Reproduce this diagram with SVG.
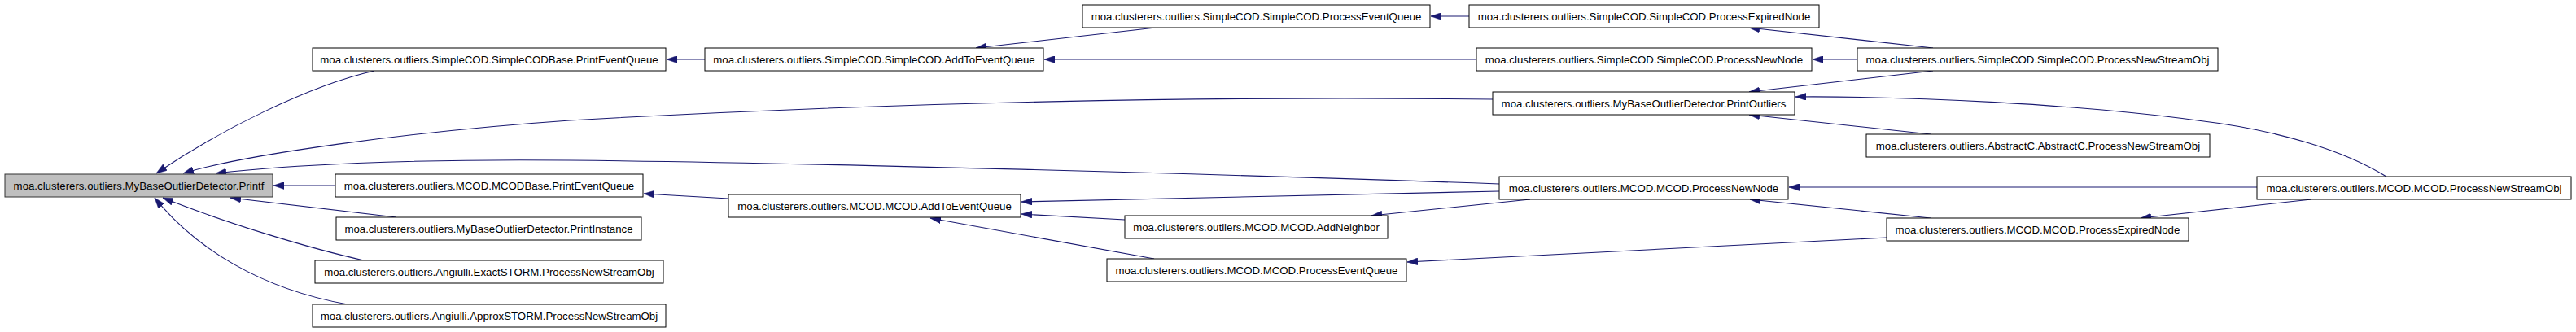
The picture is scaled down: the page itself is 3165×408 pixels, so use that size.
<svg xmlns="http://www.w3.org/2000/svg" width="3165" height="408" viewBox="0 0 3165 408">
<style>
.n rect{fill:#ffffff;stroke:#000000;stroke-width:1}
.n.main rect{fill:#bfbfbf;stroke:#333333}
.n text{font-family:"Liberation Sans",Arial,Helvetica,sans-serif;font-size:13.25px;fill:#000000;text-anchor:middle}
.e path{fill:none;stroke:#191970;stroke-width:1.1}
</style>
<defs>
<marker id="ah" markerUnits="userSpaceOnUse" viewBox="0 0 13 9" markerWidth="13" markerHeight="9" refX="13" refY="4.5" orient="auto">
<path d="M0,0 L13,4.5 L0,9 z" fill="#191970" stroke="#191970" stroke-width="0.5"/>
</marker>
</defs>
<rect x="0" y="0" width="3165" height="408" fill="#ffffff"/>
<g id="connectors" class="e">
<path marker-end="url(#ah)" d="M460,87 C380,105 270,160 192,213"/>
<path marker-end="url(#ah)" d="M1834,122 C1500,118 1100,125 700,148 C500,162 300,190 225,213"/>
<path marker-end="url(#ah)" d="M1842,226 C1500,214 1000,200 700,197 C500,195 350,203 265,213"/>
<path marker-end="url(#ah)" d="M412,228 L336,228"/>
<path marker-end="url(#ah)" d="M487,267 L283,243"/>
<path marker-end="url(#ah)" d="M447,320 C380,305 280,275 200,243"/>
<path marker-end="url(#ah)" d="M427,374 C320,355 240,305 190,243"/>
<path marker-end="url(#ah)" d="M866,73 L819,73"/>
<path marker-end="url(#ah)" d="M1420,34 L1199,59"/>
<path marker-end="url(#ah)" d="M1814,73 L1283,73"/>
<path marker-end="url(#ah)" d="M1805,20 L1758,20"/>
<path marker-end="url(#ah)" d="M2375,59 L2149,34"/>
<path marker-end="url(#ah)" d="M2282,73 L2227,73"/>
<path marker-end="url(#ah)" d="M2375,87 L2149,113"/>
<path marker-end="url(#ah)" d="M2372,165 L2149,141"/>
<path marker-end="url(#ah)" d="M2932,217 C2880,185 2800,160 2700,148 C2550,128 2350,118 2206,119"/>
<path marker-end="url(#ah)" d="M2773,230 L2198,230"/>
<path marker-end="url(#ah)" d="M2840,245 L2630,268"/>
<path marker-end="url(#ah)" d="M2372,268 L2150,245"/>
<path marker-end="url(#ah)" d="M2318,292 L1729,322"/>
<path marker-end="url(#ah)" d="M1880,245 L1685,265"/>
<path marker-end="url(#ah)" d="M1842,235 L1255,248"/>
<path marker-end="url(#ah)" d="M1382,270 L1255,263"/>
<path marker-end="url(#ah)" d="M1418,318 L1143,268"/>
<path marker-end="url(#ah)" d="M895,244 L791,238"/>
</g>
<g id="n_printf" class="n main"><rect x="6" y="214" width="329" height="28"/><text x="170.5" y="232.5">moa.clusterers.outliers.MyBaseOutlierDetector.Printf</text></g>
<g id="n_scodbase_peq" class="n"><rect x="384" y="59" width="434" height="28"/><text x="601" y="77.5">moa.clusterers.outliers.SimpleCOD.SimpleCODBase.PrintEventQueue</text></g>
<g id="n_mcodbase_peq" class="n"><rect x="412" y="214" width="378" height="28"/><text x="601" y="232.5">moa.clusterers.outliers.MCOD.MCODBase.PrintEventQueue</text></g>
<g id="n_printinstance" class="n"><rect x="413" y="267" width="375" height="28"/><text x="600.5" y="285.5">moa.clusterers.outliers.MyBaseOutlierDetector.PrintInstance</text></g>
<g id="n_exactstorm" class="n"><rect x="387" y="320" width="428" height="28"/><text x="601" y="338.5">moa.clusterers.outliers.Angiulli.ExactSTORM.ProcessNewStreamObj</text></g>
<g id="n_approxstorm" class="n"><rect x="384" y="374" width="434" height="28"/><text x="601" y="392.5">moa.clusterers.outliers.Angiulli.ApproxSTORM.ProcessNewStreamObj</text></g>
<g id="n_scod_addq" class="n"><rect x="866" y="59" width="416" height="28"/><text x="1074" y="77.5">moa.clusterers.outliers.SimpleCOD.SimpleCOD.AddToEventQueue</text></g>
<g id="n_mcod_addq" class="n"><rect x="895" y="239" width="359" height="28"/><text x="1074.5" y="257.5">moa.clusterers.outliers.MCOD.MCOD.AddToEventQueue</text></g>
<g id="n_scod_peq" class="n"><rect x="1330" y="6" width="427" height="28"/><text x="1543.5" y="24.5">moa.clusterers.outliers.SimpleCOD.SimpleCOD.ProcessEventQueue</text></g>
<g id="n_scod_pnn" class="n"><rect x="1814" y="59" width="412" height="28"/><text x="2020" y="77.5">moa.clusterers.outliers.SimpleCOD.SimpleCOD.ProcessNewNode</text></g>
<g id="n_printoutliers" class="n"><rect x="1834" y="113" width="371" height="28"/><text x="2019.5" y="131.5">moa.clusterers.outliers.MyBaseOutlierDetector.PrintOutliers</text></g>
<g id="n_mcod_pnn" class="n"><rect x="1842" y="217" width="355" height="28"/><text x="2019.5" y="235.5">moa.clusterers.outliers.MCOD.MCOD.ProcessNewNode</text></g>
<g id="n_mcod_addn" class="n"><rect x="1382" y="265" width="323" height="28"/><text x="1543.5" y="283.5">moa.clusterers.outliers.MCOD.MCOD.AddNeighbor</text></g>
<g id="n_mcod_peq" class="n"><rect x="1360" y="318" width="368" height="28"/><text x="1544" y="336.5">moa.clusterers.outliers.MCOD.MCOD.ProcessEventQueue</text></g>
<g id="n_scod_pen" class="n"><rect x="1805" y="6" width="430" height="28"/><text x="2020" y="24.5">moa.clusterers.outliers.SimpleCOD.SimpleCOD.ProcessExpiredNode</text></g>
<g id="n_scod_pnso" class="n"><rect x="2282" y="59" width="443" height="28"/><text x="2503.5" y="77.5">moa.clusterers.outliers.SimpleCOD.SimpleCOD.ProcessNewStreamObj</text></g>
<g id="n_abstractc" class="n"><rect x="2293" y="165" width="422" height="28"/><text x="2504" y="183.5">moa.clusterers.outliers.AbstractC.AbstractC.ProcessNewStreamObj</text></g>
<g id="n_mcod_pen" class="n"><rect x="2318" y="268" width="371" height="28"/><text x="2503.5" y="286.5">moa.clusterers.outliers.MCOD.MCOD.ProcessExpiredNode</text></g>
<g id="n_mcod_pnso" class="n"><rect x="2773" y="217" width="386" height="28"/><text x="2966" y="235.5">moa.clusterers.outliers.MCOD.MCOD.ProcessNewStreamObj</text></g>
</svg>
